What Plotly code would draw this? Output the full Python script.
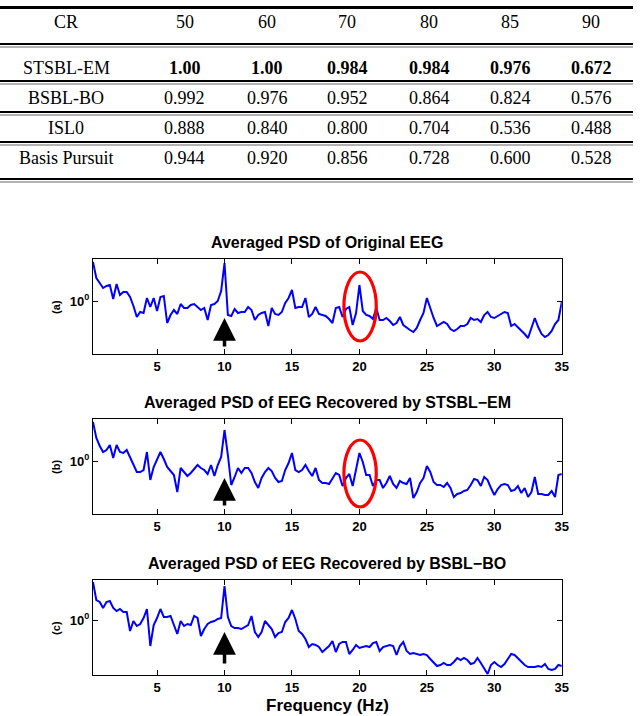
import numpy as np
import plotly.graph_objects as go

# ---------------- table data ----------------
cr_levels = ["50", "60", "70", "80", "85", "90"]
method_names = ["STSBL-EM", "BSBL-BO", "ISL0", "Basis Pursuit"]
stsbl_em_rates = [1.00, 1.00, 0.984, 0.984, 0.976, 0.672]
bsbl_bo_rates = [0.992, 0.976, 0.952, 0.864, 0.824, 0.576]
isl0_rates = [0.888, 0.840, 0.800, 0.704, 0.536, 0.488]
basis_pursuit_rates = [0.944, 0.920, 0.856, 0.728, 0.600, 0.528]

# ---------------- PSD data (log10 of PSD) ----------------
freq_hz = np.arange(0.25, 35.001, 0.25)

psd_original = [
    0.39, 0.23, 0.18, 0.13, 0.15, 0.16, 0.02, 0.17, 0.06, 0.09,
    0.09, 0.04, -0.05, -0.16, -0.11, -0.12, 0.03, -0.06, 0.03, -0.10,
    0.04, 0.05, -0.22, -0.14, -0.09, -0.13, -0.03, -0.07, -0.07, -0.04,
    -0.03, -0.06, -0.09, -0.07, -0.19, -0.04, -0.03, 0.00, 0.10, 0.38,
    -0.14, -0.15, -0.08, -0.12, -0.11, -0.11, -0.06, -0.09, -0.19, -0.14,
    -0.12, -0.11, -0.25, -0.07, -0.13, -0.14, -0.11, -0.02, 0.03, 0.11,
    -0.07, -0.06, -0.06, 0.03, -0.16, -0.13, -0.06, -0.13, -0.14, -0.15,
    -0.18, -0.22, -0.07, -0.06, -0.16, -0.08, -0.06, -0.24, -0.12, 0.16,
    -0.10, -0.14, -0.15, -0.18, -0.07, -0.19, -0.19, -0.17, -0.20, -0.24,
    -0.22, -0.16, -0.24, -0.27, -0.29, -0.31, -0.27, -0.19, -0.12, 0.03,
    -0.08, -0.17, -0.25, -0.23, -0.21, -0.23, -0.28, -0.30, -0.28, -0.25,
    -0.25, -0.23, -0.17, -0.19, -0.18, -0.21, -0.14, -0.11, -0.16, -0.17,
    -0.15, -0.13, -0.11, -0.12, -0.25, -0.23, -0.26, -0.30, -0.33, -0.37,
    -0.26, -0.17, -0.26, -0.33, -0.36, -0.34, -0.30, -0.23, -0.19, -0.01,
]

psd_stsbl_em = [
    0.39, 0.23, 0.15, 0.09, 0.11, 0.16, 0.03, 0.16, 0.09, 0.08,
    0.11, 0.04, -0.04, -0.11, -0.11, -0.09, 0.09, -0.19, -0.06, 0.01,
    0.09, 0.02, -0.06, -0.10, -0.14, -0.31, -0.07, -0.11, -0.15, -0.12,
    -0.08, -0.04, -0.07, -0.09, -0.13, -0.04, -0.15, -0.04, 0.04, 0.31,
    0.06, -0.24, -0.16, -0.07, -0.12, -0.07, -0.07, -0.12, -0.21, -0.27,
    -0.17, -0.11, -0.07, -0.10, -0.17, -0.21, -0.20, -0.09, -0.02, 0.08,
    -0.09, -0.11, -0.09, -0.04, -0.10, -0.15, -0.07, -0.19, -0.22, -0.22,
    -0.23, -0.17, -0.12, -0.14, -0.25, -0.17, -0.13, -0.25, -0.07, 0.08,
    -0.01, -0.14, -0.14, -0.25, -0.19, -0.19, -0.27, -0.22, -0.15, -0.23,
    -0.27, -0.20, -0.22, -0.23, -0.17, -0.37, -0.31, -0.22, -0.17, -0.05,
    -0.11, -0.21, -0.24, -0.24, -0.26, -0.22, -0.27, -0.36, -0.33, -0.32,
    -0.30, -0.29, -0.24, -0.18, -0.19, -0.25, -0.16, -0.19, -0.27, -0.34,
    -0.28, -0.24, -0.23, -0.24, -0.30, -0.29, -0.25, -0.32, -0.27, -0.36,
    -0.31, -0.16, -0.33, -0.33, -0.34, -0.34, -0.30, -0.36, -0.14, -0.13,
]

psd_bsbl_bo = [
    0.38, 0.20, 0.18, 0.12, 0.18, 0.19, 0.12, 0.09, 0.11, 0.08,
    0.08, -0.11, -0.01, -0.06, -0.04, 0.02, 0.11, -0.26, -0.05, 0.02,
    0.11, 0.03, 0.03, 0.04, -0.05, -0.14, -0.01, -0.06, -0.04, -0.05,
    0.04, 0.02, -0.16, -0.09, -0.04, -0.02, -0.01, 0.01, 0.02, 0.34,
    0.03, -0.06, -0.08, -0.08, -0.09, -0.07, -0.05, 0.04, -0.12, -0.17,
    -0.12, -0.01, -0.05, -0.09, -0.17, -0.13, -0.12, -0.02, 0.02, 0.10,
    0.01, -0.11, -0.14, -0.19, -0.27, -0.24, -0.25, -0.27, -0.32, -0.29,
    -0.26, -0.21, -0.32, -0.24, -0.22, -0.22, -0.34, -0.30, -0.25, -0.28,
    -0.27, -0.26, -0.27, -0.23, -0.22, -0.31, -0.27, -0.26, -0.25, -0.26,
    -0.35, -0.26, -0.22, -0.31, -0.34, -0.33, -0.34, -0.35, -0.34, -0.35,
    -0.39, -0.43, -0.46, -0.45, -0.43, -0.45, -0.45, -0.42, -0.38, -0.40,
    -0.38, -0.40, -0.44, -0.43, -0.38, -0.43, -0.48, -0.54, -0.45, -0.42,
    -0.45, -0.47, -0.44, -0.39, -0.34, -0.35, -0.38, -0.42, -0.45, -0.47,
    -0.47, -0.47, -0.46, -0.47, -0.44, -0.49, -0.50, -0.49, -0.45, -0.46,
]

panel_titles = [
    "Averaged PSD of Original EEG",
    "Averaged PSD of EEG Recovered by STSBL\u2212EM",
    "Averaged PSD of EEG Recovered by BSBL\u2212BO",
]
panel_labels = ["(a)", "(b)", "(c)"]
x_ticks = [5, 10, 15, 20, 25, 30, 35]

W, H = 640, 716


def px(x):
    return x / W


def py(y):
    return 1 - y / H


fig = go.Figure()

series = [psd_original, psd_stsbl_em, psd_bsbl_bo]
panel_top = [259, 419, 580]
panel_bot = [354, 514, 675]
y_ranges = [[-0.53, 0.42], [-0.53, 0.42], [-0.55, 0.40]]
X0, X1 = 94, 568

shapes = []
annotations = []

for i, vals in enumerate(series):
    sfx = "" if i == 0 else str(i + 1)
    fig.add_trace(go.Scatter(
        x=freq_hz, y=vals, mode="lines",
        line=dict(color="#0000FF", width=2),
        xaxis="x" + sfx, yaxis="y" + sfx, showlegend=False,
        hoverinfo="skip",
    ))
    axis_common = dict(
        showline=True, linecolor="black", linewidth=1, mirror="ticks",
        ticks="inside", ticklen=5, tickcolor="black", showgrid=False,
        zeroline=False, tickfont=dict(family="Liberation Sans", size=13,
                                      color="black", weight="bold"),
    )
    fig.update_layout(**{
        "xaxis" + sfx: dict(
            domain=[px(X0), px(X1)], anchor="y" + sfx, range=[0.25, 35],
            tickvals=x_ticks, **axis_common),
        "yaxis" + sfx: dict(
            domain=[py(panel_bot[i]), py(panel_top[i])], anchor="x" + sfx,
            range=y_ranges[i], tickvals=[0], ticktext=["10<sup>0</sup>"],
            **axis_common),
    })
    annotations.append(dict(
        xref="paper", yref="paper", x=px(331), y=py(panel_top[i] - 17),
        text="<b>" + panel_titles[i] + "</b>", showarrow=False,
        font=dict(family="Liberation Sans", size=16, color="black"),
        xanchor="center", yanchor="middle"))
    annotations.append(dict(
        xref="paper", yref="paper", x=px(56),
        y=py((panel_top[i] + panel_bot[i]) / 2),
        text="<b>" + panel_labels[i] + "</b>", showarrow=False, textangle=-90,
        font=dict(family="Liberation Sans", size=11, color="black"),
        xanchor="center", yanchor="middle"))

# arrows at 10 Hz
arrow_tips = [-0.17, -0.17, -0.12]
arrow_tails = [-0.47, -0.46, -0.45]
for i in range(3):
    sfx = "" if i == 0 else str(i + 1)
    annotations.append(dict(
        x=10, y=arrow_tips[i], ax=10, ay=arrow_tails[i],
        xref="x" + sfx, yref="y" + sfx, axref="x" + sfx, ayref="y" + sfx,
        text="", showarrow=True, arrowhead=2, arrowsize=1.3, arrowwidth=3.5,
        arrowcolor="black", standoff=0))

# red ellipses around 20 Hz
ellipse_x = [(18.85, 21.25), (18.85, 21.25)]
ellipse_y = [(-0.40, 0.29), (-0.46, 0.21)]
for i in range(2):
    sfx = "" if i == 0 else str(i + 1)
    shapes.append(dict(
        type="circle", xref="x" + sfx, yref="y" + sfx,
        x0=ellipse_x[i][0], x1=ellipse_x[i][1],
        y0=ellipse_y[i][0], y1=ellipse_y[i][1],
        line=dict(color="#FF0000", width=3.2)))

annotations.append(dict(
    xref="paper", yref="paper", x=px(331), y=py(705),
    text="<b>Frequency (Hz)</b>", showarrow=False,
    font=dict(family="Liberation Sans", size=17, color="black"),
    xanchor="center", yanchor="middle"))

# ---------------- table ----------------
col_x = [67, 187, 270, 351, 434, 516, 598]
row_y = [22, 68, 98, 128, 158]
serif = dict(family="Liberation Serif", size=18, color="black")


def cell(x, y, text):
    return dict(xref="paper", yref="paper", x=px(x), y=py(y), text=text,
                showarrow=False, font=serif, xanchor="center", yanchor="middle")


annotations.append(cell(col_x[0], row_y[0], "CR"))
for j, c in enumerate(cr_levels):
    annotations.append(cell(col_x[j + 1], row_y[0], c))

rows = [stsbl_em_rates, bsbl_bo_rates, isl0_rates, basis_pursuit_rates]
for r, (name, vals) in enumerate(zip(method_names, rows)):
    annotations.append(cell(col_x[0], row_y[r + 1], name))
    for j, v in enumerate(vals):
        s = f"{v:.2f}" if v >= 1 else f"{v:.3f}"
        if r == 0:
            s = "<b>" + s + "</b>"
        annotations.append(cell(col_x[j + 1], row_y[r + 1], s))

# rules
shapes.append(dict(type="line", xref="paper", yref="paper", x0=0, x1=1,
                   y0=py(7.5), y1=py(7.5), line=dict(color="black", width=3)))
for yy in [44, 81, 112, 142, 179]:
    shapes.append(dict(type="line", xref="paper", yref="paper", x0=0, x1=1,
                       y0=py(yy), y1=py(yy), line=dict(color="black", width=2)))
    shapes.append(dict(type="line", xref="paper", yref="paper", x0=0, x1=1,
                       y0=py(yy + 3), y1=py(yy + 3), line=dict(color="#666666", width=1)))

fig.update_layout(
    width=W, height=H, margin=dict(l=0, r=0, t=0, b=0),
    paper_bgcolor="white", plot_bgcolor="white",
    shapes=shapes, annotations=annotations, showlegend=False,
    hovermode=False,
)

fig.write_html(
    "out.html", config={"displayModeBar": False},
    post_script=(
        "document.body.style.margin='0px';"
        "document.body.style.overflow='hidden';"
        "document.documentElement.style.overflow='hidden';"
    ),
)
